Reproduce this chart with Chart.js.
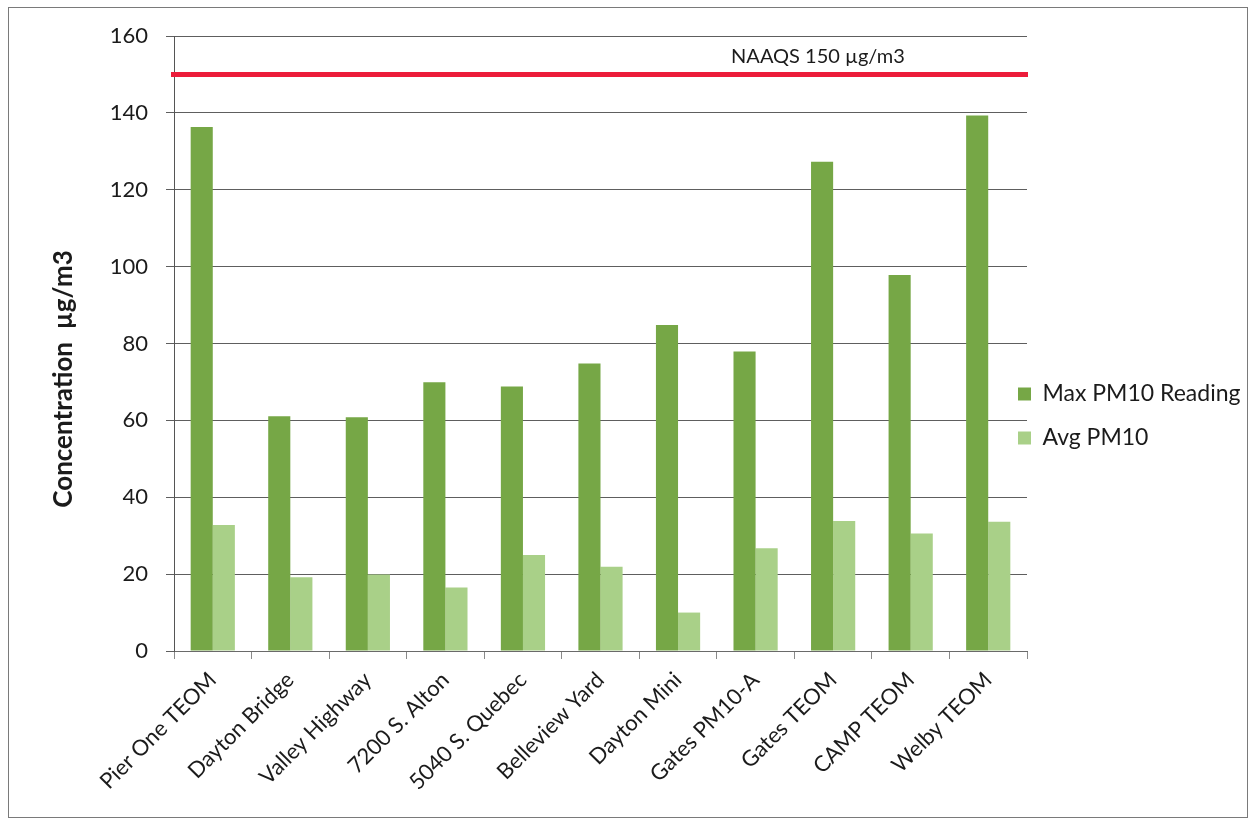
<!DOCTYPE html>
<html>
<head>
<meta charset="utf-8">
<script src="https://cdn.jsdelivr.net/npm/chart.js@4"></script>
<style>
  html, body { margin: 0; padding: 0; background: #fff; }
  #wrap { width: 1252px; height: 820px; }
</style>
</head>
<body>
<div id="wrap"><canvas id="pmChart" width="1252" height="820"></canvas></div>
<script>
// monitoring sites and PM10 readings (µg/m3)
const sites = ['Pier One TEOM', 'Dayton Bridge', 'Valley Highway', '7200 S. Alton', '5040 S. Quebec',
  'Belleview Yard', 'Dayton Mini', 'Gates PM10-A', 'Gates TEOM', 'CAMP TEOM', 'Welby TEOM'];
const maxReading = [136.3, 61.1, 60.8, 69.9, 68.8, 74.8, 84.8, 77.9, 127.3, 97.8, 139.3];
const avgReading = [32.8, 19.2, 19.9, 16.5, 25.0, 21.9, 10.0, 26.7, 33.8, 30.6, 33.6];
const naaqsLimit = 150;
const naaqsLabel = 'NAAQS 150 µg/m3';
const yTitle = 'Concentration  µg/m3';

const FONT = 'Lato, "Liberation Sans", sans-serif';
const TEXT = '#1b1b1b';
const LEGEND_PAD = 21;

// white page + thin frame around the whole chart
const framePlugin = {
  id: 'frame',
  beforeDraw(chart) {
    const c = chart.ctx;
    c.save();
    c.fillStyle = '#fff';
    c.fillRect(0, 0, chart.width, chart.height);
    c.strokeStyle = '#7a7a7a';
    c.lineWidth = 1;
    c.strokeRect(8.5, 7.5, 1239, 810);
    c.restore();
  }
};

// let the legend sit slightly over the right end of the plot
const legendShift = {
  id: 'legendShift',
  afterLayout(chart) {
    const lg = chart.legend;
    lg.left = 1018 - LEGEND_PAD;
    lg.top -= 7;
    lg.bottom -= 7;
  }
};

// standard limit line across the plot, plus its label and the y-axis title
const limitPlugin = {
  id: 'limit',
  afterDatasetsDraw(chart) {
    const c = chart.ctx;
    const area = chart.chartArea;
    const y = chart.scales.y.getPixelForValue(naaqsLimit);
    c.save();
    c.strokeStyle = '#ec1c3a';
    c.lineWidth = 5;
    c.beginPath();
    c.moveTo(area.left - 3, y);
    c.lineTo(area.right + 1, y);
    c.stroke();

    c.fillStyle = TEXT;
    c.font = '20px ' + FONT;
    c.textAlign = 'center';
    c.textBaseline = 'alphabetic';
    c.fillText(naaqsLabel, 818, y - 11);

    c.font = 'bold 26px ' + FONT;
    c.translate(64, 379);
    c.rotate(-Math.PI / 2);
    c.textBaseline = 'middle';
    c.fillText(yTitle, 0, 0);
    c.restore();
  }
};

new Chart(document.getElementById('pmChart'), {
  type: 'bar',
  data: {
    labels: sites,
    datasets: [
      {
        label: 'Max PM10 Reading',
        data: maxReading,
        backgroundColor: '#76a746',
        categoryPercentage: 0.57,
        barPercentage: 1.0
      },
      {
        label: 'Avg PM10',
        data: avgReading,
        backgroundColor: '#a9d088',
        categoryPercentage: 0.57,
        barPercentage: 1.0
      }
    ]
  },
  options: {
    responsive: false,
    animation: false,
    layout: { padding: { left: 90, top: 36, right: 0, bottom: 10 } },
    plugins: {
      legend: {
        position: 'right',
        maxWidth: 1252 - 1027,
        labels: {
          color: TEXT,
          font: { family: FONT, size: 23 },
          boxWidth: 13,
          boxHeight: 13,
          padding: LEGEND_PAD
        }
      },
      tooltip: { enabled: false }
    },
    scales: {
      x: {
        grid: {
          offset: true,
          drawOnChartArea: false,
          tickLength: 8,
          color: '#8a8a8a'
        },
        border: { color: '#6a6a6a' },
        ticks: {
          autoSkip: false,
          maxRotation: 45,
          minRotation: 45,
          padding: 8,
          color: TEXT,
          font: { family: FONT, size: 22 }
        },
        afterFit(scale) { scale.height = 820 - 651 - 10; }
      },
      y: {
        min: 0,
        max: 160,
        ticks: {
          stepSize: 20,
          padding: 18,
          color: TEXT,
          font: { family: FONT, size: 22 }
        },
        grid: { color: '#5e5e5e', tickLength: 8 },
        border: { color: '#555' },
        afterFit(scale) { scale.width = 174 - 90; }
      }
    }
  },
  plugins: [framePlugin, legendShift, limitPlugin]
});
</script>
</body>
</html>
